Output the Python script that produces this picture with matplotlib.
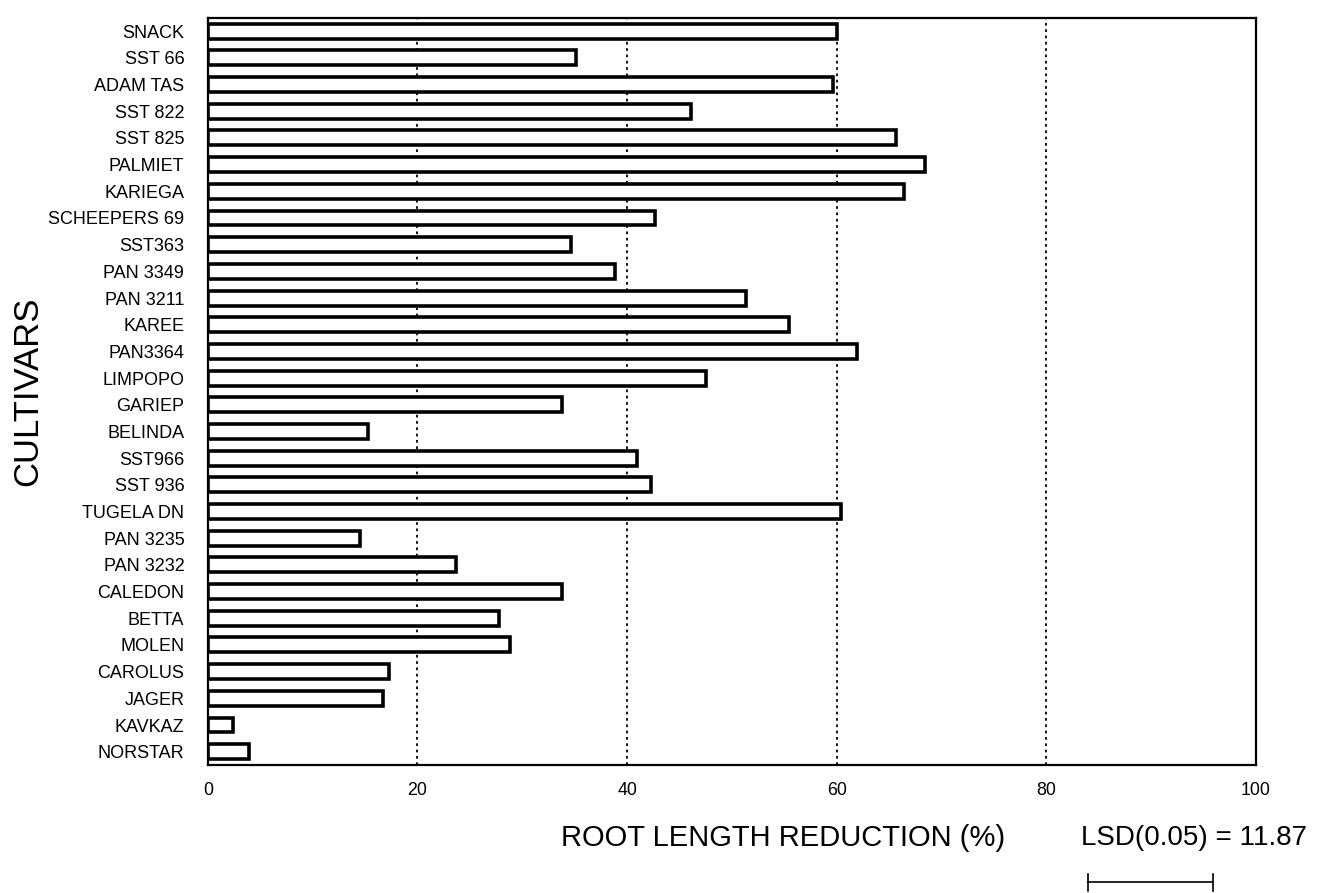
import matplotlib.pyplot as plt
from matplotlib.transforms import blended_transform_factory

plt.rcParams["font.family"] = ["Liberation Sans", "DejaVu Sans"]

# cultivars listed top to bottom
cultivars = [
    "SNACK", "SST 66", "ADAM TAS", "SST 822", "SST 825", "PALMIET", "KARIEGA",
    "SCHEEPERS 69", "SST363", "PAN 3349", "PAN 3211", "KAREE", "PAN3364",
    "LIMPOPO", "GARIEP", "BELINDA", "SST966", "SST 936", "TUGELA DN",
    "PAN 3235", "PAN 3232", "CALEDON", "BETTA", "MOLEN", "CAROLUS", "JAGER",
    "KAVKAZ", "NORSTAR",
]
reduction = [
    60.0, 35.1, 59.6, 46.1, 65.7, 68.4, 66.4,
    42.7, 34.6, 38.8, 51.3, 55.4, 61.9,
    47.5, 33.8, 15.3, 40.9, 42.3, 60.4,
    14.5, 23.7, 33.8, 27.8, 28.8, 17.3, 16.7,
    2.4, 3.9,
]
x_ticks = [0, 20, 40, 60, 80, 100]
grid_at = [20, 40, 60, 80]
lsd = 11.87

fig = plt.figure(figsize=(13.24, 8.93), dpi=100)
ax = fig.add_axes([0.157, 0.1433, 0.7916, 0.8367])

ypos = list(range(len(cultivars)))
ax.barh(ypos, reduction, height=0.56, color="white", edgecolor="black",
        linewidth=2.6, zorder=3)

for g in grid_at:
    ax.axvline(g, color="black", linestyle=(0, (1.5, 2)), linewidth=1.3, zorder=1)

ax.set_xlim(0, 100)
ax.set_ylim(len(cultivars) - 0.5, -0.5)
ax.set_yticks(ypos)
ax.set_yticklabels(cultivars, fontsize=13)
ax.set_xticks(x_ticks)
ax.set_xticklabels([str(t) for t in x_ticks], fontsize=12.8)
ax.tick_params(axis="both", length=0)
ax.tick_params(axis="y", pad=17)
ax.tick_params(axis="x", pad=12)
for sp in ax.spines.values():
    sp.set_linewidth(1.6)
    sp.set_color("black")

fig.text(0.5915, 0.0616, "ROOT LENGTH REDUCTION (%)", fontsize=21,
         ha="center", va="center")
fig.text(0.902, 0.0616, "LSD(0.05) = 11.87", fontsize=20,
         ha="center", va="center")
fig.text(0.021, 0.562, "CULTIVARS", fontsize=25, rotation=90,
         ha="center", va="center")

# LSD scale bar under the label, in data units along x
trans = blended_transform_factory(ax.transData, fig.transFigure)
x0 = 84.0
x1 = x0 + lsd
ax.plot([x0, x1], [0.0123, 0.0123], color="black", linewidth=1.2,
        transform=trans, clip_on=False)
for xe in (x0, x1):
    ax.plot([xe, xe], [0.002, 0.021], color="black", linewidth=1.2,
            transform=trans, clip_on=False)

fig.savefig("out.png", dpi=100)
